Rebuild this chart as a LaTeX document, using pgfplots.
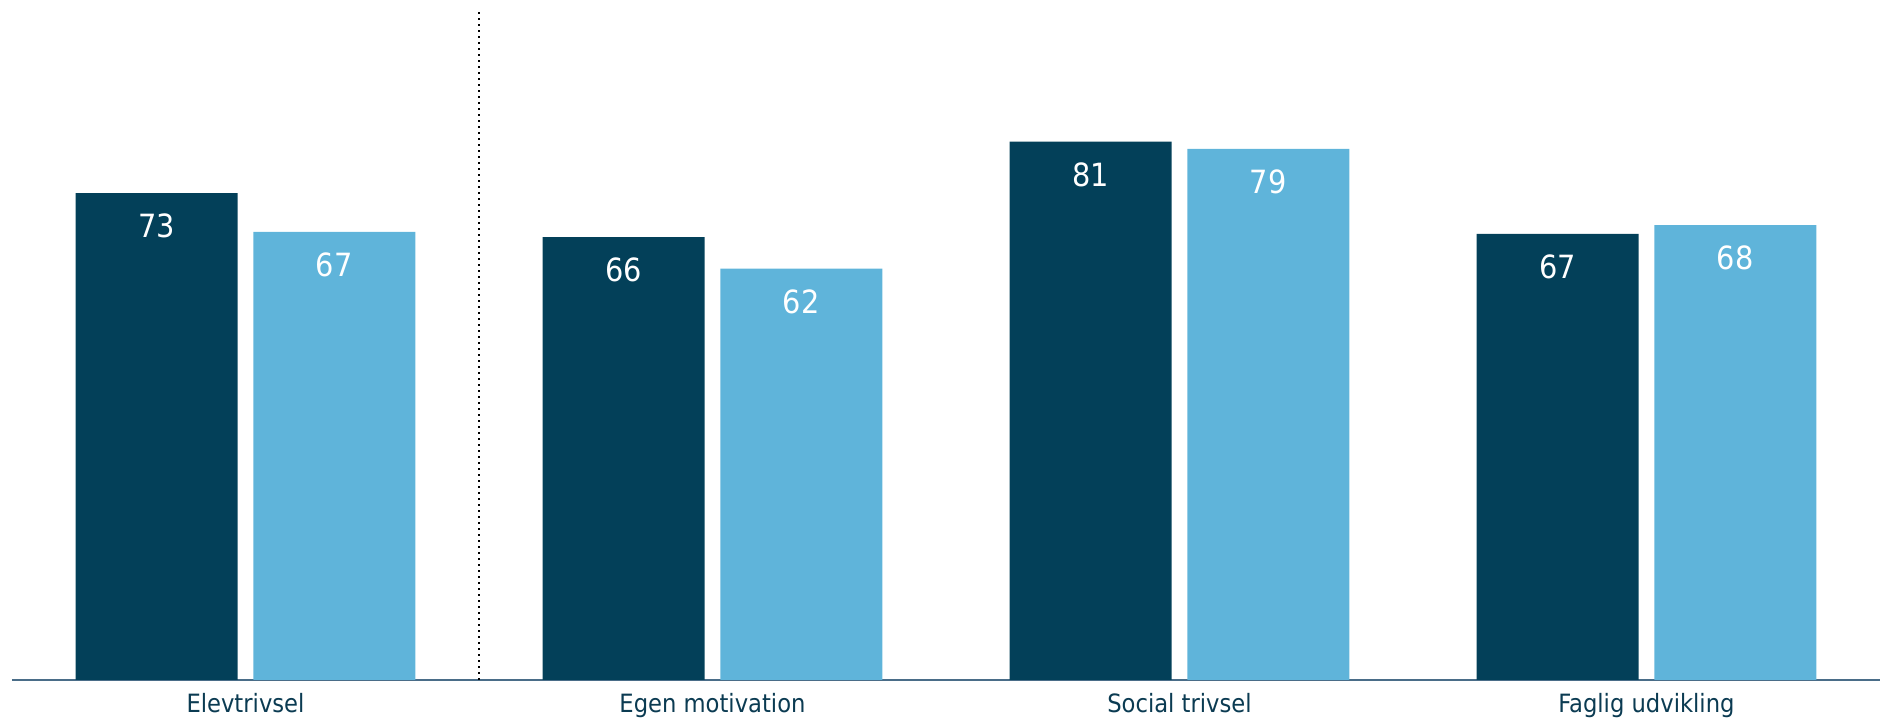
\documentclass[border=0pt]{standalone}
\usepackage{pgfplots}
\pgfplotsset{compat=1.18}
\usepackage{fontspec}
\setmainfont{DejaVu Sans Condensed}
\definecolor{darkbar}{HTML}{034059}
\definecolor{lightbar}{HTML}{5FB4DA}
\definecolor{axisc}{HTML}{4A6D88}
\definecolor{labc}{HTML}{0B3B52}
\begin{document}
\begin{tikzpicture}
\useasboundingbox (-6pt,-21pt) rectangle (934.5pt,340pt);
\begin{axis}[
  at={(0,0)}, anchor=south west,
  scale only axis, width=934pt, height=334pt,
  xmin=-0.5, xmax=3.5, ymin=0, ymax=100,
  axis y line=none, axis x line*=bottom,
  x axis line style={color=axisc, line width=0.8pt, -},
  xtick={0,1,2,3},
  xticklabels={Elevtrivsel, Egen motivation, Social trivsel, Faglig udvikling},
  xtick style={draw=none},
  xticklabel style={anchor=base, yshift=-11.85pt, font=\fontsize{12.6}{15}\selectfont, text=labc},
  ytick=\empty,
  ybar, bar width=81pt,
  clip=false,
  point meta=explicit,
  nodes near coords,
  /pgf/number format/assume math mode=true,
  every node near coord/.append style={anchor=base, yshift=-22.4pt, text=white, font=\fontsize{16}{18}\selectfont},
]
\addplot[fill=darkbar, draw=none, bar shift=-44.4pt] coordinates {(0,72.9) [73] (1,66.3) [66] (2,80.6) [81] (3,66.8) [67]};
\addplot[fill=lightbar, draw=none, bar shift=44.4pt] coordinates {(0,67.1) [67] (1,61.6) [62] (2,79.5) [79] (3,68.1) [68]};
\draw[black, line width=1pt, dotted] (axis cs:0.5,0) -- (axis cs:0.5,100.3);
\end{axis}
\end{tikzpicture}
\end{document}
